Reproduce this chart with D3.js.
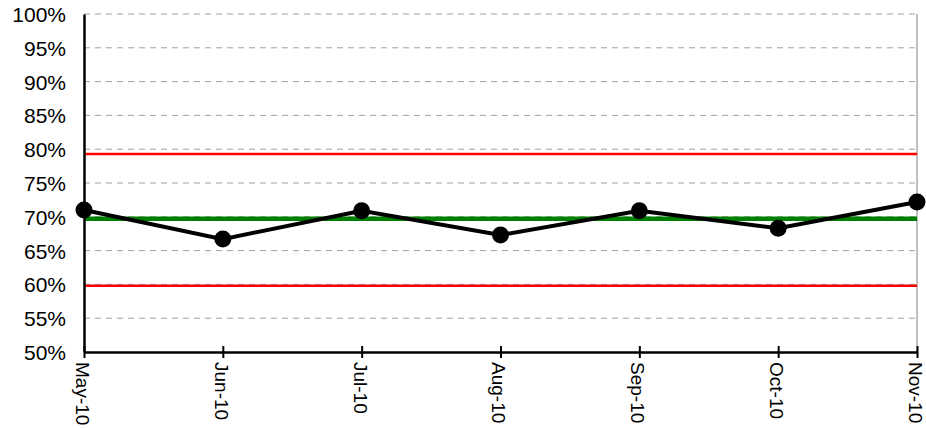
<!DOCTYPE html>
<html>
<head>
<meta charset="utf-8">
<script src="https://cdn.jsdelivr.net/npm/d3@7"></script>
<style>
body { margin: 0; background: #fff; }
text { font-family: "Liberation Sans", Arial, sans-serif; fill: #000; }
</style>
</head>
<body>
<svg id="control-chart"></svg>
<script>
// control chart data
var months = ["May-10", "Jun-10", "Jul-10", "Aug-10", "Sep-10", "Oct-10", "Nov-10"];
var values = [71.0, 66.7, 70.9, 67.3, 70.9, 68.3, 72.2];
var meanLine = 69.7;
var upperLimit = 79.3;
var lowerLimit = 59.8;
var yTicks = [50, 55, 60, 65, 70, 75, 80, 85, 90, 95, 100];

//dimensions and margins of the graph
var margin = {top: 14, right: 9, bottom: 76, left: 84},
width = 926 - margin.left - margin.right,
height = 428 - margin.top - margin.bottom;

var svg = d3.select("#control-chart")
.attr("width", width + margin.left + margin.right)
.attr("height", height + margin.top + margin.bottom)
.append("g")
.attr("transform", "translate(" + margin.left + "," + margin.top + ")");

// scales
var x = d3.scalePoint()
.domain(months)
.range([0, width])
.padding(0);

var y = d3.scaleLinear()
.domain([50, 100])
.range([height, 0]);

// dashed gridlines
svg.append("g")
.selectAll("line")
.data(yTicks.slice(1))
.enter()
.append("line")
.attr("x1", 0)
.attr("x2", width)
.attr("y1", function(d){ return y(d); })
.attr("y2", function(d){ return y(d); })
.attr("stroke", "#a0a0a0")
.attr("stroke-width", 1)
.attr("stroke-dasharray", "6,5");

// right border
svg.append("line")
.attr("x1", width)
.attr("x2", width)
.attr("y1", 0)
.attr("y2", height)
.attr("stroke", "#808080")
.attr("stroke-width", 1);

// control limits
svg.selectAll(".limit")
.data([upperLimit, lowerLimit])
.enter()
.append("line")
.attr("class", "limit")
.attr("x1", 0)
.attr("x2", width)
.attr("y1", function(d){ return y(d); })
.attr("y2", function(d){ return y(d); })
.attr("stroke", "#ff0000")
.attr("stroke-width", 2.5);

// mean line
svg.append("line")
.attr("x1", 0)
.attr("x2", width)
.attr("y1", y(meanLine))
.attr("y2", y(meanLine))
.attr("stroke", "#008000")
.attr("stroke-width", 4.5);

// y axis
var yAxis = svg.append("g")
.call(d3.axisLeft(y).tickValues(yTicks).tickSize(0).tickPadding(18)
.tickFormat(function(d){ return d + "%"; }));
yAxis.select(".domain").attr("stroke", "#000").attr("stroke-width", 2.5);
yAxis.selectAll("text")
.style("font-size", "21px")
.attr("dy", "0.36em");

// x axis
var xAxis = svg.append("g")
.attr("transform", "translate(0," + height + ")")
.call(d3.axisBottom(x).tickSizeInner(6).tickSizeOuter(0));
xAxis.select(".domain").attr("stroke", "#000").attr("stroke-width", 2.5);
xAxis.selectAll(".tick line")
.attr("y1", -6)
.attr("y2", 6)
.attr("stroke", "#000")
.attr("stroke-width", 2);
xAxis.selectAll("text")
.attr("transform", "translate(0,10)rotate(90)")
.attr("x", 0)
.attr("y", 0)
.attr("dy", "0.45em")
.style("text-anchor", "start")
.style("font-size", "19px");

// data line
var line = d3.line()
.x(function(d, i){ return x(months[i]); })
.y(function(d){ return y(d); });

svg.append("path")
.datum(values)
.attr("d", line)
.attr("fill", "none")
.attr("stroke", "#000")
.attr("stroke-width", 4);

// markers
svg.selectAll(".dot")
.data(values)
.enter()
.append("circle")
.attr("class", "dot")
.attr("cx", function(d, i){ return x(months[i]); })
.attr("cy", function(d){ return y(d); })
.attr("r", 8.5)
.attr("fill", "#000");
</script>
</body>
</html>
